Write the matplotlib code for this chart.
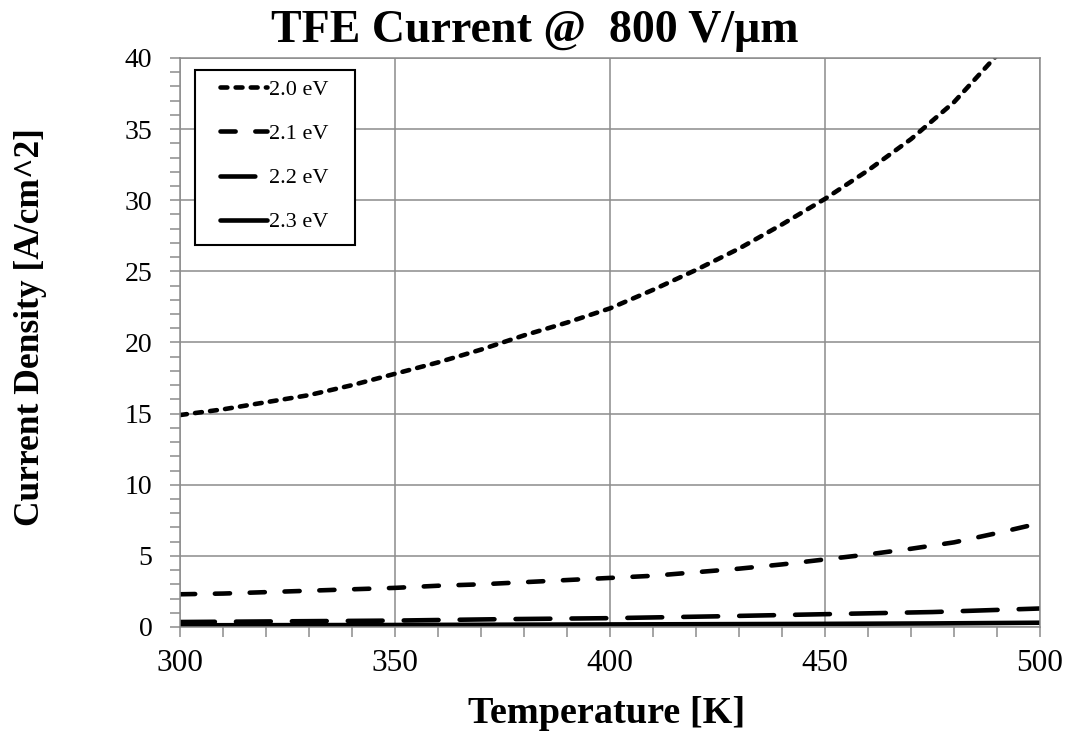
import matplotlib
matplotlib.use("Agg")
import matplotlib.pyplot as plt
from matplotlib.patches import Rectangle
from matplotlib.ticker import MultipleLocator

plt.rcParams["font.family"] = ["Liberation Serif", "DejaVu Serif"]

# temperatures [K] and current densities [A/cm^2]
temp_fine = [300, 310, 320, 330, 340, 350, 360, 370, 380, 390, 400,
             410, 420, 430, 440, 450, 460, 470, 480, 490, 500]
j_20 = [14.9, 15.3, 15.8, 16.3, 17.0, 17.8, 18.6, 19.5, 20.5, 21.4, 22.4,
        23.7, 25.1, 26.6, 28.3, 30.1, 32.1, 34.3, 36.9, 40.2, 43.8]
j_21 = [2.3, 2.35, 2.45, 2.55, 2.65, 2.75, 2.9, 3.0, 3.15, 3.3, 3.45,
        3.6, 3.85, 4.1, 4.4, 4.75, 5.1, 5.5, 5.95, 6.6, 7.3]
temp_coarse = [300, 325, 350, 375, 400, 425, 450, 475, 500]
j_22 = [0.35, 0.4, 0.45, 0.55, 0.62, 0.75, 0.9, 1.05, 1.3]
j_23 = [0.12, 0.13, 0.14, 0.16, 0.18, 0.2, 0.22, 0.25, 0.3]

labels = ["2.0 eV", "2.1 eV", "2.2 eV", "2.3 eV"]

fig = plt.figure(figsize=(10.73, 7.49), dpi=100)
ax = fig.add_axes([0.1678, 0.1629, 0.8015, 0.7597])

lw = 3.3
kw = dict(color="black", lw=lw, dash_capstyle="round", solid_capstyle="round")
ax.plot(temp_fine, j_20, ls=(0, (1.5, 1.8)), label=labels[0], **kw)
ax.plot(temp_fine, j_21, ls=(0, (3.3, 4.3)), label=labels[1], **kw)
ax.plot(temp_coarse, j_22, ls=(0, (7.6, 4.6)), label=labels[2], **kw)
ax.plot(temp_coarse, j_23, ls="-", label=labels[3], **kw)

ax.set_xlim(300, 500)
ax.set_ylim(0, 40)
ax.xaxis.set_major_locator(MultipleLocator(50))
ax.xaxis.set_minor_locator(MultipleLocator(10))
ax.yaxis.set_major_locator(MultipleLocator(5))
ax.yaxis.set_minor_locator(MultipleLocator(1))

grid_c = "#8c8c8c"
ax.grid(True, which="major", color=grid_c, lw=1.1)
ax.set_axisbelow(True)
for s in ax.spines.values():
    s.set_color(grid_c)
    s.set_linewidth(1.1)
ax.tick_params(which="both", direction="out", color=grid_c, width=1.1, length=7)
ax.tick_params(axis="x", which="major", labelsize=22.5, pad=9)
ax.tick_params(axis="y", which="major", labelsize=20, pad=13)

# legend without its own frame, plus a drawn box to match the spacing
leg = ax.legend(loc="upper left", bbox_to_anchor=(0.0465, 0.962), borderaxespad=0,
                fontsize=16, handlelength=2.1, handletextpad=0.1,
                labelspacing=1.06, borderpad=0, frameon=False)
ax.add_patch(Rectangle((0.0174, 0.6714), 0.1861, 0.3075, transform=ax.transAxes,
                       fill=True, facecolor="white", edgecolor="black", lw=1.5,
                       zorder=4))
leg.set_zorder(5)

fig.text(0.4986, 0.958, "TFE Current @  800 V/\u03bcm", ha="center", va="center",
         fontsize=33, fontweight="bold")
fig.text(0.565, 0.048, "Temperature [K]", ha="center", va="center",
         fontsize=27.5, fontweight="bold")
fig.text(0.028, 0.563, "Current Density [A/cm^2]", ha="center", va="center",
         rotation=90, fontsize=25.5, fontweight="bold")

fig.savefig("out.png", dpi=100)
